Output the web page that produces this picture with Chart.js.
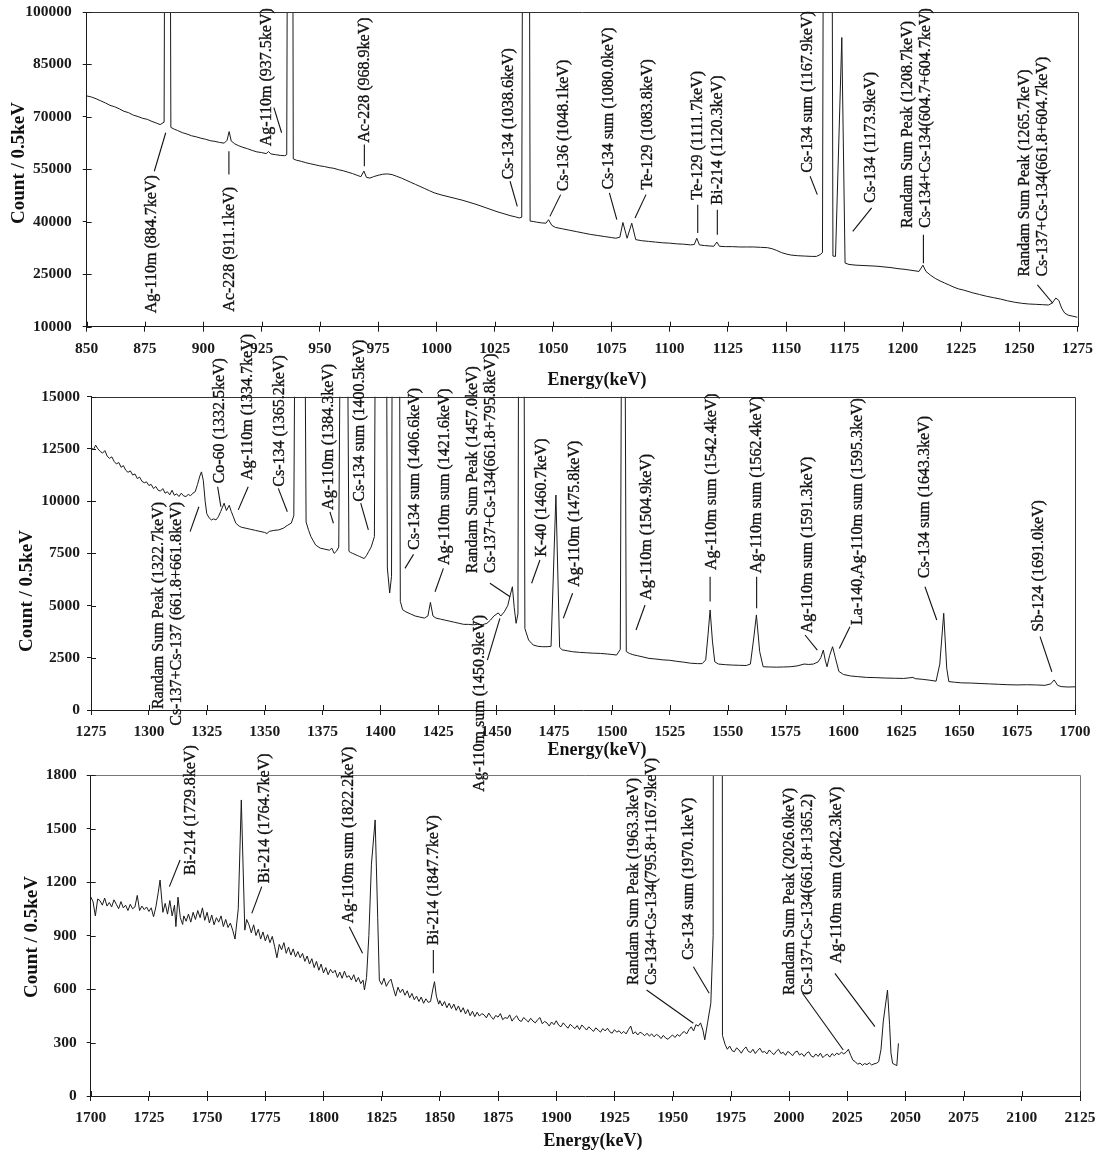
<!DOCTYPE html>
<html>
<head>
<meta charset="utf-8">
<script src="https://cdn.jsdelivr.net/npm/chart.js@4.4.1/dist/chart.umd.min.js"></script>
<style>
  html, body { margin: 0; padding: 0; background: #fff; }
  #wrap { position: relative; width: 1099px; height: 1153px; overflow: hidden; }
  #wrap canvas { position: absolute; left: 0; top: 0; }
</style>
</head>
<body>
<div id="wrap">
  <canvas id="spec1" width="1099" height="1153"></canvas>
  <canvas id="spec2" width="1099" height="1153"></canvas>
  <canvas id="spec3" width="1099" height="1153"></canvas>
</div>
<script>
// ---------- spectra: [energy keV, counts per 0.5 keV] ----------
const spectrum1 = [
  [850,76000],[852,75700],[854,75200],[856,74600],[858,74000],[860,73300],[862,72900],[864,72300],[866,71600],[868,71200],
  [870,70500],[872,70100],[874,69600],[876,69300],[878,68700],[880,68200],[881.5,67800],[883.2,68500],[884.7,400000],[886.1,67000],
  [887.5,66500],[889,66100],[891,65500],[893,65100],[895,64600],[897,64300],[899,63900],[901,63600],[903,63200],[905,63000],
  [907,62700],[909,62500],[910.2,63300],[911.1,65800],[912,63100],[913.5,62300],[915,61800],[917,61300],[919,60900],[921,60400],
  [923,60000],[925,59800],[927,59500],[928,60100],[929,59400],[931,59200],[933,59000],[935,58900],[935.8,59200],[937.5,450000],
  [938.6,58000],[940,57600],[942,57300],[944,56900],[946,56600],[948,56300],[950,56000],[952,55800],[954,55500],[956,55300],
  [958,54900],[960,54600],[962,54200],[964,53800],[966,53300],[967.6,52900],[968.9,54500],[970,52700],[971.5,52500],[973,52900],
  [975,53300],[977,53600],[979,53700],[981,53500],[983,53000],[985,52500],[987,51900],[989,51300],[991,50700],[993,50100],
  [995,49500],[997,48900],[999,48300],[1002,47700],[1005,47200],[1008,46700],[1011,46200],[1014,45600],[1017,45000],[1020,44300],
  [1023,43600],[1026,42900],[1029,42300],[1032,41700],[1034,41400],[1035.5,41100],[1036.6,41300],[1038.6,500000],[1040.2,40200],[1041.5,40100],
  [1043,39900],[1045,39700],[1047,39600],[1048.1,40600],[1049.5,39000],[1051,38400],[1054,38000],[1057,37600],[1060,37200],[1063,36800],
  [1066,36400],[1069,36100],[1072,35800],[1075,35500],[1077,35300],[1078.7,35600],[1080.0,39800],[1081.8,35300],[1083.8,39600],[1085.5,34900],
  [1088,34600],[1091,34400],[1094,34200],[1097,34000],[1100,33900],[1103,33700],[1106,33600],[1109,33400],[1110.6,33500],[1111.7,35300],
  [1112.8,33400],[1115,33200],[1117,33100],[1119,33000],[1120.3,34200],[1121.4,33000],[1124,32900],[1127,32900],[1130,32800],[1133,32800],
  [1136,32800],[1139,32700],[1142,32600],[1144,32300],[1146,31800],[1148,31200],[1150,30800],[1152,30500],[1155,30300],[1158,30200],
  [1161,30100],[1163,30100],[1164.6,30600],[1165.6,31200],[1167.9,600000],[1170.1,30200],[1171.2,30100],[1173.9,92700],[1175.3,28200],[1177,27800],
  [1180,27600],[1183,27500],[1186,27400],[1189,27300],[1192,27100],[1195,26900],[1198,26600],[1201,26400],[1204,26100],[1207,25800],
  [1208.7,27600],[1210,25800],[1212,24700],[1214,23800],[1216,23100],[1218,22500],[1220,21900],[1222,21300],[1224,20800],[1226,20500],
  [1228,20100],[1230,19700],[1233,19200],[1236,18700],[1239,18300],[1242,17900],[1245,17400],[1248,17000],[1251,16700],[1254,16500],
  [1257,16400],[1260,16300],[1262.6,16200],[1264.2,16800],[1265.7,18200],[1267,17500],[1268.2,15300],[1269.5,13900],[1271,13300],[1273,13000],
  [1275,12700]
];

const spectrum2 = [
  [1275,12600],[1276,12450],[1277,12680],[1278,12500],[1279,12380],[1280,12300],[1281,12420],[1282,12150],[1283,12050],[1284,12120],
  [1285,11900],[1286,11780],[1287,11850],[1288,11620],[1289,11700],[1290,11480],[1291,11380],[1292,11450],[1293,11250],[1294,11300],
  [1295,11080],[1296,11150],[1297,10950],[1298,10880],[1299,10920],[1300,10750],[1301,10800],[1302,10600],[1303,10700],[1304,10520],
  [1305,10480],[1306,10600],[1307,10380],[1308,10450],[1309,10300],[1310,10520],[1311,10280],[1312,10350],[1313,10220],[1314,10380],
  [1315,10250],[1316,10220],[1317,10320],[1318,10260],[1319,10380],[1320,10450],[1321,10800],[1322,11200],[1322.7,11400],[1323.5,11000],
  [1324.3,10000],[1325,9400],[1326,9200],[1327,9100],[1328,9150],[1329,9100],[1330,9250],[1331,9500],[1332.5,9900],[1333.5,9550],
  [1334.7,9800],[1335.6,9500],[1336.5,9250],[1337.5,8950],[1339,8800],[1340,8750],[1342,8700],[1344,8650],[1346,8600],[1348,8550],
  [1350,8500],[1351,8450],[1352,8550],[1354,8600],[1356,8620],[1358,8700],[1360,8850],[1361.5,8950],[1362.6,9300],[1365.2,60000],
  [1367.9,9000],[1369,8600],[1370,8300],[1371,8100],[1372,7900],[1374,7750],[1376,7700],[1378,7650],[1379,7750],[1380,7500],
  [1381,7600],[1382,7800],[1384.3,45000],[1386.4,7600],[1387,7550],[1388,7500],[1389,7450],[1390,7400],[1391,7350],[1392,7300],
  [1393,7250],[1394,7400],[1395,7600],[1396,7800],[1397.4,8300],[1400.5,90000],[1403.0,6800],[1404.0,5600],[1404.8,6400],[1406.6,80000],
  [1408.6,5200],[1409.6,4800],[1411,4700],[1413,4600],[1415,4500],[1417,4450],[1419,4400],[1420.5,4500],[1421.6,5150],[1422.7,4500],
  [1424,4400],[1426,4350],[1428,4300],[1430,4250],[1432,4200],[1434,4150],[1436,4100],[1438,4100],[1440,4080],[1442,4100],
  [1444,4080],[1446,4150],[1447.5,4300],[1449,4500],[1450.9,4650],[1452,4500],[1453.5,4700],[1455,5000],[1456.3,5600],[1457.0,5900],
  [1457.8,4900],[1458.6,4150],[1459.4,4600],[1460.7,70000],[1462.4,3900],[1464,3350],[1466,3110],[1468,3050],[1470,3030],[1472,3030],
  [1473.7,3050],[1475.8,10290],[1477.4,3000],[1478.5,2880],[1481,2830],[1483,2790],[1486,2760],[1489,2740],[1492,2720],[1495,2710],
  [1498,2680],[1500,2660],[1502,2630],[1503.6,2900],[1504.9,40000],[1506.2,2800],[1507.5,2710],[1509,2650],[1511,2600],[1513,2550],
  [1516,2470],[1519,2440],[1522,2400],[1525,2380],[1528,2330],[1531,2290],[1534,2240],[1537,2220],[1539,2220],[1540.5,2400],
  [1541.5,3600],[1542.4,4790],[1543.4,3300],[1544.4,2310],[1546,2200],[1549,2170],[1552,2150],[1555,2140],[1558,2130],[1559.8,2200],
  [1561.2,3400],[1562.4,4550],[1563.8,2800],[1565.3,2070],[1568,2060],[1571,2050],[1574,2060],[1577,2070],[1580,2110],[1583,2200],
  [1585,2180],[1587,2200],[1589,2300],[1590.2,2500],[1591.3,2870],[1592.1,2400],[1592.9,2070],[1594,2600],[1595.3,3030],[1596.5,2500],
  [1598,1850],[1600,1700],[1603,1630],[1606,1600],[1610,1560],[1614,1550],[1618,1530],[1622,1520],[1626,1510],[1630,1560],
  [1631,1500],[1634,1470],[1637,1430],[1640,1380],[1641.6,2200],[1643.3,4630],[1644.6,2000],[1645.5,1360],[1648,1330],[1651,1300],
  [1655,1290],[1659,1270],[1663,1250],[1667,1230],[1671,1210],[1675,1200],[1679,1210],[1683,1200],[1687,1180],[1689.5,1250],
  [1691.0,1440],[1692.5,1180],[1694,1120],[1697,1100],[1700,1110]
];

const spectrum3 = [
  [1700,1117],[1701,1090],[1702,1010],[1703,1105],[1704,1095],[1705,1070],[1706,1110],[1707,1065],[1708,1085],[1709,1060],
  [1710,1100],[1711,1075],[1712,1050],[1713,1090],[1714,1055],[1715,1070],[1716,1040],[1717,1075],[1718,1050],[1719,1060],
  [1720,1125],[1721,1040],[1722,1065],[1723,1045],[1724,1060],[1725,1035],[1726,1055],[1727,1005],[1728,1060],[1729,1140],
  [1729.8,1211],[1731,1030],[1732,1080],[1733,1020],[1734,1096],[1735,1010],[1736,1070],[1736.6,950],[1737.5,1115],[1738.5,1000],
  [1739.5,962],[1740,1010],[1741,980],[1742,1020],[1743,975],[1744,1030],[1745,990],[1746,1040],[1747,1000],[1748,1055],
  [1749,985],[1750,1030],[1751,970],[1752,1015],[1753,960],[1754,1000],[1755,975],[1756,1010],[1757,950],[1758,990],
  [1759,945],[1760,970],[1761,930],[1762,880],[1763.4,1050],[1764.7,1660],[1766.2,930],[1767,990],[1768,960],[1769,915],
  [1770,960],[1771,900],[1772,935],[1773,880],[1774,920],[1775,870],[1776,905],[1777,860],[1778,895],[1779,840],
  [1780,775],[1781,850],[1782,820],[1783,860],[1784,800],[1785,835],[1786,790],[1787,825],[1788,780],[1789,810],
  [1790,775],[1791,800],[1792,755],[1793,785],[1794,740],[1795,770],[1796,720],[1797,755],[1798,705],[1799,740],
  [1800,690],[1801,720],[1802,680],[1803,710],[1804,690],[1805,705],[1806,665],[1807,695],[1808,660],[1809,700],
  [1810,665],[1811,675],[1812,650],[1813,680],[1814,640],[1815,665],[1816,630],[1817,650],[1817.6,595],[1818.5,665],
  [1819.5,900],[1820.6,1300],[1822.2,1548],[1823.3,1000],[1824,650],[1825,625],[1826,660],[1827,615],[1828,640],[1829,655],
  [1830,605],[1831,560],[1832,610],[1833,580],[1834,600],[1835,565],[1836,590],[1837,550],[1838,575],[1839,540],
  [1840,560],[1841,530],[1842,555],[1843,520],[1844,545],[1845,525],[1846,530],[1847,600],[1847.7,641],[1848.5,560],
  [1849.5,515],[1850,535],[1851,505],[1852,530],[1853,495],[1854,520],[1855,490],[1856,515],[1857,480],[1858,505],
  [1859,470],[1860,495],[1861,460],[1862,485],[1863,450],[1864,475],[1865,445],[1866,470],[1867,448],[1868,462],
  [1869,455],[1870,438],[1871,465],[1872,445],[1873,430],[1874,452],[1875,442],[1876,462],[1877,428],[1878,440],
  [1879,435],[1880,455],[1881,420],[1882,438],[1883,450],[1884,425],[1885,418],[1886,440],[1887,428],[1888,415],
  [1889,436],[1890,420],[1891,410],[1892,428],[1893,440],[1894,405],[1895,418],[1896,410],[1897,392],[1898,415],
  [1899,400],[1900,422],[1901,398],[1902,388],[1903,410],[1904,395],[1905,380],[1906,402],[1907,390],[1908,378],
  [1909,395],[1910,372],[1911,398],[1912,385],[1913,370],[1914,388],[1915,375],[1916,362],[1917,382],[1918,370],
  [1919,358],[1920,378],[1921,365],[1922,380],[1923,360],[1924,352],[1925,372],[1926,358],[1927,366],[1928,350],
  [1929,362],[1930,348],[1931,372],[1932,392],[1933,348],[1934,360],[1935,342],[1936,358],[1937,350],[1938,338],
  [1939,352],[1940,336],[1941,348],[1942,332],[1943,345],[1944,338],[1945,322],[1946,340],[1947,325],[1948,318],
  [1949,332],[1950,342],[1951,328],[1952,345],[1953,335],[1954,352],[1955,362],[1956,348],[1957,372],[1958,388],
  [1959,365],[1960,400],[1961,392],[1962,410],[1963,370],[1963.8,315],[1965,410],[1966.4,520],[1967.4,900],[1970.1,40000],
  [1971.4,340],[1972.5,290],[1973.5,262],[1974.5,280],[1975.5,255],[1976.5,248],[1977.5,270],[1978.5,258],[1979.5,240],[1980.5,262],
  [1981.5,275],[1982.5,250],[1983.5,244],[1984.5,262],[1985.5,238],[1986.5,255],[1987.5,268],[1988.5,245],[1989.5,250],[1990.5,236],
  [1991.5,258],[1992.5,244],[1993.5,232],[1994.5,250],[1995.5,262],[1996.5,238],[1997.5,245],[1998.5,228],[1999.5,250],[2000.5,240],
  [2001.5,226],[2002.5,245],[2003.5,252],[2004.5,230],[2005.5,238],[2006.5,222],[2007.5,240],[2008.5,248],[2009.5,225],[2010.5,218],
  [2011.5,236],[2012.5,222],[2013.5,240],[2014.5,215],[2015.5,228],[2016.5,234],[2017.5,218],[2018.5,238],[2019.5,226],[2020.5,240],
  [2021.5,232],[2022.5,246],[2023.5,236],[2024.5,245],[2025.5,262],[2026.5,228],[2027.5,200],[2028.5,192],[2029.5,178],[2030.5,185],
  [2031.5,172],[2032.5,182],[2033.5,176],[2034.5,186],[2035.5,174],[2036.5,180],[2037.5,183],[2038.5,192],[2039.5,260],[2040.5,420],
  [2042.3,594],[2043.2,400],[2043.8,240],[2044.5,183],[2045.5,176],[2046.3,170],[2047,295]
];

// ---------- peak identifications ----------
const peakNames1 = [
  ['Ag-110m (884.7keV)'],
  ['Ac-228 (911.1keV)'],
  ['Ag-110m (937.5keV)'],
  ['Ac-228 (968.9keV)'],
  ['Cs-134 (1038.6keV)'],
  ['Cs-136 (1048.1keV)'],
  ['Cs-134 sum (1080.0keV)'],
  ['Te-129 (1083.8keV)'],
  ['Te-129 (1111.7keV)'],
  ['Bi-214 (1120.3keV)'],
  ['Cs-134 sum (1167.9keV)'],
  ['Cs-134 (1173.9keV)'],
  ['Randam Sum Peak (1208.7keV)', 'Cs-134+Cs-134(604.7+604.7keV)'],
  ['Randam Sum Peak (1265.7keV)', 'Cs-137+Cs-134(661.8+604.7keV)']
];
const peakNames2 = [
  ['Randam Sum Peak (1322.7keV)', 'Cs-137+Cs-137 (661.8+661.8keV)'],
  ['Co-60 (1332.5keV)'],
  ['Ag-110m (1334.7keV)'],
  ['Cs-134 (1365.2keV)'],
  ['Ag-110m (1384.3keV)'],
  ['Cs-134 sum (1400.5keV)'],
  ['Cs-134 sum (1406.6keV)'],
  ['Ag-110m sum (1421.6keV)'],
  ['Randam Sum Peak (1457.0keV)', 'Cs-137+Cs-134(661.8+795.8keV)'],
  ['Ag-110m sum (1450.9keV)'],
  ['K-40 (1460.7keV)'],
  ['Ag-110m (1475.8keV)'],
  ['Ag-110m (1504.9keV)'],
  ['Ag-110m sum (1542.4keV)'],
  ['Ag-110m sum (1562.4keV)'],
  ['Ag-110m sum (1591.3keV)'],
  ['La-140,Ag-110m sum (1595.3keV)'],
  ['Cs-134 sum (1643.3keV)'],
  ['Sb-124 (1691.0keV)']
];
const peakNames3 = [
  ['Bi-214 (1729.8keV)'],
  ['Bi-214 (1764.7keV)'],
  ['Ag-110m sum (1822.2keV)'],
  ['Bi-214 (1847.7keV)'],
  ['Randam Sum Peak (1963.3keV)', 'Cs-134+Cs-134(795.8+1167.9keV)'],
  ['Cs-134 sum (1970.1keV)'],
  ['Randam Sum Peak (2026.0keV)', 'Cs-137+Cs-134(661.8+1365.2)'],
  ['Ag-110m sum (2042.3keV)']
];

// where each name sits (energy, counts) and its leader line [e1, c1, e2, c2]
const placement1 = [
  { at: [877.9, 13840], lead: [883.9, 65470, 879.0, 54450] },
  { at: [911.5, 14300], lead: [911.0, 60190, 911.0, 53510] },
  { at: [927.2, 61620], lead: [933.6, 65470, 930.3, 72640] },
  { at: [969.1, 62600], lead: [969.1, 55890, 969.1, 62110] },
  { at: [1030.9, 52070], lead: [1034.7, 44420, 1031.6, 51590] },
  { at: [1054.5, 48720], lead: [1048.7, 41550, 1053.3, 47770] },
  { at: [1073.8, 49210], lead: [1077.4, 40600, 1074.2, 48260] },
  { at: [1090.5, 49210], lead: [1085.2, 41090, 1089.9, 47770] },
  { at: [1112.1, 46340], lead: [1112.1, 36790, 1112.1, 44900] },
  { at: [1120.5, 44900], lead: [1120.5, 36300, 1120.5, 43470] },
  { at: [1159.1, 54000], lead: [1163.4, 47770, 1160.3, 53020] },
  { at: [1186.3, 45390], lead: [1178.6, 37250, 1186.7, 43960] },
  { at: [1202.4, 38220], lead: [1208.9, 28180, 1208.9, 36300] },
  { at: [1252.5, 24340], lead: [1264.4, 16710, 1257.8, 21960] }
];
const placement2 = [
  { at: [1304.1, 9960], end: true, lead: [1317.8, 8540, 1321.6, 9730] },
  { at: [1330.7, 10850], lead: [1331.1, 9730, 1329.7, 10690] },
  { at: [1342.9, 11010], lead: [1338.6, 9580, 1342.9, 10690] },
  { at: [1356.6, 10690], lead: [1359.8, 9490, 1355.9, 10610] },
  { at: [1377.5, 9580], lead: [1379.7, 8940, 1378.2, 9490] },
  { at: [1391.2, 9970], lead: [1394.8, 8620, 1391.5, 9900] },
  { at: [1415.0, 7660], lead: [1410.6, 6780, 1414.3, 7450] },
  { at: [1427.9, 6940], lead: [1423.6, 5660, 1427.2, 6780] },
  { at: [1439.9, 6550], lead: [1456.0, 5420, 1447.3, 6070] },
  { at: [1443.0, 4550], end: true, lead: [1451.6, 4390, 1446.2, 2390] },
  { at: [1469.7, 7340], lead: [1465.3, 6070, 1468.9, 7180] },
  { at: [1484.0, 5900], lead: [1479.0, 4390, 1483.0, 5590] },
  { at: [1515.0, 5270], lead: [1510.4, 3830, 1514.3, 5030] },
  { at: [1543.1, 6700], lead: [1542.4, 5190, 1542.4, 6380] },
  { at: [1562.5, 6550], lead: [1562.5, 4870, 1562.5, 6380] },
  { at: [1584.8, 3670], lead: [1588.7, 2870, 1583.4, 3590] },
  { at: [1606.4, 4070], lead: [1598.2, 2950, 1602.8, 3990] },
  { at: [1635.2, 6310], lead: [1640.3, 4310, 1635.2, 5900] },
  { at: [1684.2, 3750], lead: [1690.0, 1830, 1684.9, 3510] }
];
const placement3 = [
  { at: [1743.0, 1239], lead: [1733.8, 1174, 1738.4, 1323] },
  { at: [1774.9, 1193], lead: [1769.2, 1024, 1773.5, 1174] },
  { at: [1810.7, 968], lead: [1816.8, 800, 1811.1, 949] },
  { at: [1847.6, 847], lead: [1847.2, 688, 1847.2, 819] },
  { at: [1933.1, 622], lead: [1958.9, 408, 1938.8, 594] },
  { at: [1957.1, 763], lead: [1965.7, 576, 1958.9, 725] },
  { at: [2000.4, 566], lead: [2023.3, 258, 2005.8, 576] },
  { at: [2020.7, 744], lead: [2036.9, 389, 2019.7, 688] }
];

// ---------- drawing ----------
const SERIF = "'Liberation Serif', 'Times New Roman', Times, serif";

// frame, inward tick halves, peak names with leaders, axis titles
const spectrumDecor = {
  id: 'spectrumDecor',
  afterDraw(chart, _args, o) {
    const { ctx, chartArea: a } = chart;
    const xs = chart.scales.x, ys = chart.scales.y;
    ctx.save();

    ctx.strokeStyle = o.frameColor;
    ctx.lineWidth = 1;
    ctx.beginPath();
    ctx.moveTo(a.left, Math.round(a.top) + 0.5);
    ctx.lineTo(Math.round(a.right) + 0.5, Math.round(a.top) + 0.5);
    ctx.lineTo(Math.round(a.right) + 0.5, a.bottom);
    ctx.stroke();

    ctx.strokeStyle = '#1a1a1a';
    ctx.beginPath();
    xs.ticks.forEach(t => {
      const px = Math.round(xs.getPixelForValue(t.value)) + 0.5;
      ctx.moveTo(px, a.bottom); ctx.lineTo(px, a.bottom - 5);
    });
    ys.ticks.forEach(t => {
      const py = Math.round(ys.getPixelForValue(t.value)) + 0.5;
      ctx.moveTo(a.left, py); ctx.lineTo(a.left + 5, py);
    });
    ctx.stroke();

    ctx.strokeStyle = '#111';
    ctx.fillStyle = '#111';
    ctx.lineWidth = 1.1;
    ctx.font = `16px ${SERIF}`;
    ctx.textBaseline = 'middle';
    o.names.forEach((lines, i) => {
      const p = o.placement[i];
      const [e1, c1, e2, c2] = p.lead;
      ctx.lineWidth = 1.1;
      ctx.beginPath();
      ctx.moveTo(xs.getPixelForValue(e1), ys.getPixelForValue(c1));
      ctx.lineTo(xs.getPixelForValue(e2), ys.getPixelForValue(c2));
      ctx.stroke();
      ctx.save();
      ctx.translate(xs.getPixelForValue(p.at[0]), ys.getPixelForValue(p.at[1]));
      ctx.rotate(-Math.PI / 2);
      ctx.textAlign = p.end ? 'right' : 'left';
      ctx.lineWidth = 0.35;
      lines.forEach((s, k) => { ctx.fillText(s, 0, k * 18); ctx.strokeText(s, 0, k * 18); });
      ctx.restore();
    });

    ctx.fillStyle = '#111';
    ctx.textAlign = 'center';
    ctx.textBaseline = 'middle';
    ctx.font = `bold 18px ${SERIF}`;
    ctx.fillText('Energy(keV)', o.xTitleAt[0], o.xTitleAt[1]);
    ctx.save();
    ctx.translate(o.yTitleAt[0], o.yTitleAt[1]);
    ctx.rotate(-Math.PI / 2);
    ctx.font = `bold 19px ${SERIF}`;
    ctx.fillText('Count / 0.5keV', 0, 0);
    ctx.restore();

    ctx.restore();
  }
};

function spectrumChart(id, spectrum, names, placement, s) {
  const tickFont = { family: SERIF, size: 15.5, weight: 'bold' };
  return new Chart(document.getElementById(id), {
    type: 'line',
    data: {
      datasets: [{
        data: spectrum.map(([e, c]) => ({ x: e, y: c })),
        borderColor: '#1a1a1a',
        borderWidth: 1,
        pointRadius: 0,
        tension: 0,
        fill: false
      }]
    },
    options: {
      responsive: false,
      animation: false,
      events: [],
      layout: { padding: s.padding },
      plugins: {
        legend: { display: false },
        tooltip: { enabled: false },
        spectrumDecor: {
          names, placement,
          frameColor: s.frameColor,
          xTitleAt: s.xTitleAt,
          yTitleAt: s.yTitleAt
        }
      },
      scales: {
        x: {
          type: 'linear',
          min: s.xMin, max: s.xMax,
          afterFit: sc => { sc.height = 40; sc.paddingLeft = 0; sc.paddingRight = 0; },
          border: { color: '#1a1a1a', width: 1 },
          grid: { drawOnChartArea: false, tickLength: 5, color: '#1a1a1a' },
          ticks: {
            stepSize: 25, autoSkip: false, maxRotation: 0, padding: 8,
            color: '#1a1a1a', font: tickFont,
            callback: v => String(v)
          }
        },
        y: {
          type: 'linear',
          min: s.yMin, max: s.yMax,
          afterFit: sc => { sc.width = s.yWidth; sc.paddingTop = 0; sc.paddingBottom = 0; },
          border: { color: '#1a1a1a', width: 1 },
          grid: { drawOnChartArea: false, tickLength: 4, color: '#1a1a1a' },
          ticks: {
            stepSize: s.yStep, padding: s.yPad,
            color: '#1a1a1a', font: tickFont,
            callback: v => String(v)
          }
        }
      }
    },
    plugins: [spectrumDecor]
  });
}

const H = 1153;
spectrumChart('spec1', spectrum1, peakNames1, placement1, {
  xMin: 850, xMax: 1275, yMin: 10000, yMax: 100000, yStep: 15000,
  yWidth: 86.7, yPad: 11,
  padding: { top: 12, left: 0, right: 21.5, bottom: H - 326.7 - 40 },
  frameColor: '#333',
  xTitleAt: [597, 380], yTitleAt: [19, 163]
});
spectrumChart('spec2', spectrum2, peakNames2, placement2, {
  xMin: 1275, xMax: 1700, yMin: 0, yMax: 15000, yStep: 2500,
  yWidth: 91, yPad: 7,
  padding: { top: 396.7, left: 0, right: 24, bottom: H - 710 - 40 },
  frameColor: '#333',
  xTitleAt: [597, 750.5], yTitleAt: [26.7, 591]
});
spectrumChart('spec3', spectrum3, peakNames3, placement3, {
  xMin: 1700, xMax: 2125, yMin: 0, yMax: 1800, yStep: 300,
  yWidth: 90.7, yPad: 10,
  padding: { top: 775, left: 0, right: 19, bottom: H - 1096 - 40 },
  frameColor: '#777',
  xTitleAt: [593, 1141], yTitleAt: [32, 937]
});
</script>
</body>
</html>
